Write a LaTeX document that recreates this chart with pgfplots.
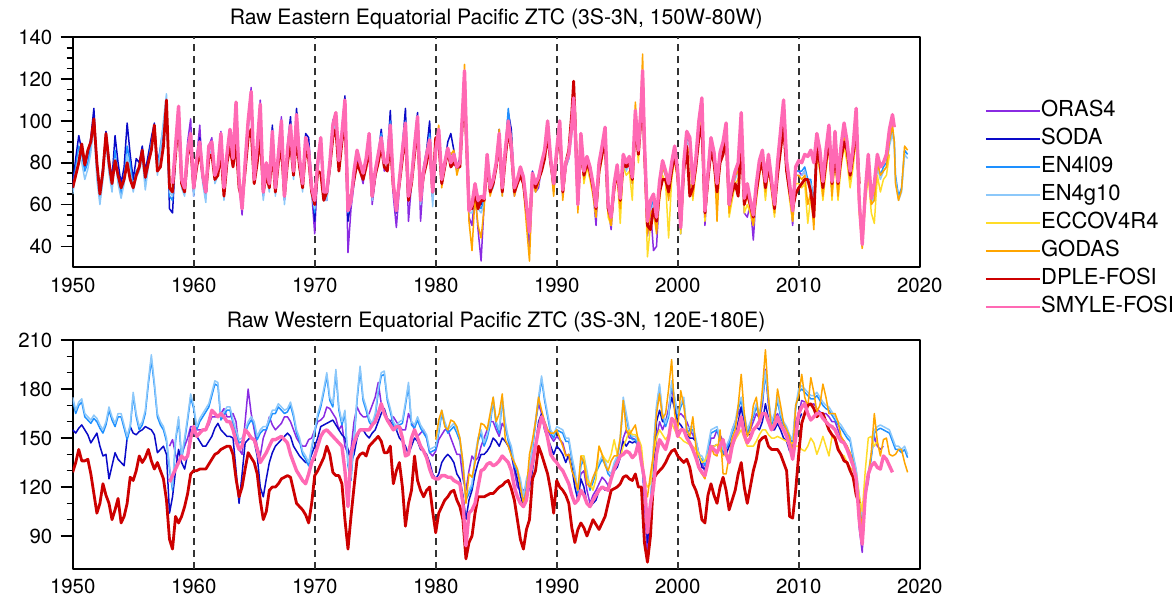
\documentclass[border=0pt]{standalone}
\usepackage{fontspec}
\setmainfont{TeX Gyre Heros}
\usepackage{pgfplots}
\usepackage{pgfplotstable}
\pgfplotsset{compat=1.18}

\definecolor{cOras}{RGB}{138,43,226}
\definecolor{cSoda}{RGB}{10,10,200}
\definecolor{cEnl}{RGB}{30,144,255}
\definecolor{cEng}{RGB}{140,200,250}
\definecolor{cEcco}{RGB}{255,220,40}
\definecolor{cGodas}{RGB}{255,165,0}
\definecolor{cDple}{RGB}{205,0,0}
\definecolor{cSmyle}{RGB}{255,105,180}

% eastern Pacific ZTC, columns: ORAS4 SODA EN4l09 EN4g10 ECCOV4R4 GODAS DPLE-FOSI SMYLE-FOSI
\pgfplotstableread{
t O S L G E Go D P
1950.00 nan 70 67 65 nan nan 68 nan
1950.25 nan 82 78 75 nan nan 74 nan
1950.50 nan 93 88 84 nan nan 80 nan
1950.75 nan 86 84 80 nan nan 89 nan
1951.00 nan 78 76 72 nan nan 79 nan
1951.25 nan 84 80 77 nan nan 86 nan
1951.50 nan 92 88 85 nan nan 90 nan
1951.75 nan 106 100 98 nan nan 101 nan
1952.00 nan 80 76 72 nan nan 80 nan
1952.25 nan 66 62 60 nan nan 65 nan
1952.50 nan 78 75 72 nan nan 76 nan
1952.75 nan 95 92 90 nan nan 94 nan
1953.00 nan 82 78 75 nan nan 80 nan
1953.25 nan 72 68 66 nan nan 70 nan
1953.50 nan 93 86 82 nan nan 81 nan
1953.75 nan 80 72 70 nan nan 74 nan
1954.00 nan 70 65 63 nan nan 68 nan
1954.25 nan 78 72 70 nan nan 72 nan
1954.50 nan 99 88 84 nan nan 80 nan
1954.75 nan 84 80 76 nan nan 72 nan
1955.00 nan 72 68 66 nan nan 68 nan
1955.25 nan 82 76 73 nan nan 74 nan
1955.50 nan 80 78 76 nan nan 78 nan
1955.75 nan 88 84 82 nan nan 86 nan
1956.00 nan 76 70 67 nan nan 73 nan
1956.25 nan 84 80 78 nan nan 80 nan
1956.50 nan 92 90 88 nan nan 86 nan
1956.75 nan 99 96 94 nan nan 98 nan
1957.00 nan 80 76 74 nan nan 76 nan
1957.25 nan 86 88 86 nan nan 78 nan
1957.50 nan 96 98 100 nan nan 88 nan
1957.75 nan 108 110 113 nan nan 110 nan
1958.00 nan 58 64 66 nan nan 68 nan
1958.25 62 56 62 64 nan nan 66 70
1958.50 86 84 86 85 nan nan 84 88
1958.75 105 102 101 99 nan nan 102 107
1959.00 70 70 70 68 nan nan 70 72
1959.25 66 68 66 64 nan nan 66 68
1959.50 90 86 84 82 nan nan 84 86
1959.75 101 92 92 90 nan nan 88 94
1960.00 64 66 66 64 nan nan 68 68
1960.25 82 80 80 78 nan nan 78 82
1960.50 98 92 88 86 nan nan 86 90
1960.75 72 74 72 70 nan nan 74 74
1961.00 63 64 63 61 nan nan 66 66
1961.25 88 86 86 84 nan nan 82 88
1961.50 92 90 88 86 nan nan 84 90
1961.75 72 72 72 70 nan nan 72 74
1962.00 76 78 76 74 nan nan 74 78
1962.25 95 92 92 90 nan nan 86 94
1962.50 64 66 66 62 nan nan 64 68
1962.75 84 82 82 80 nan nan 80 84
1963.00 96 94 94 92 nan nan 88 96
1963.25 80 80 80 78 nan nan 78 82
1963.50 108 104 104 100 nan nan 90 109
1963.75 70 70 70 68 nan nan 68 72
1964.00 55 58 60 62 nan nan 62 58
1964.25 80 78 78 76 nan nan 76 80
1964.50 100 98 98 96 nan nan 92 100
1964.75 116 114 112 108 nan nan 96 114
1965.00 70 72 72 70 nan nan 70 72
1965.25 88 88 86 84 nan nan 80 88
1965.50 110 108 106 104 nan nan 94 108
1965.75 64 66 64 62 nan nan 66 66
1966.00 80 78 78 76 nan nan 74 80
1966.25 68 70 68 66 nan nan 68 70
1966.50 96 98 94 92 nan nan 86 95
1966.75 66 68 66 64 nan nan 66 68
1967.00 84 84 82 80 nan nan 80 84
1967.25 102 98 98 96 nan nan 88 100
1967.50 62 64 62 60 nan nan 64 64
1967.75 86 88 86 84 nan nan 80 86
1968.00 98 102 98 96 nan nan 90 98
1968.25 74 76 74 72 nan nan 74 76
1968.50 104 106 102 100 nan nan 92 103
1968.75 80 80 80 78 nan nan 78 82
1969.00 68 70 68 66 nan nan 68 70
1969.25 92 94 92 90 nan nan 86 92
1969.50 88 92 88 86 nan nan 82 86
1969.75 66 70 66 64 nan nan 66 68
1970.00 46 52 56 58 nan nan 60 62
1970.25 78 80 78 76 nan nan 76 80
1970.50 90 92 90 88 nan nan 75 92
1970.75 64 66 64 62 nan nan 62 66
1971.00 62 66 64 62 nan nan 66 66
1971.25 78 80 78 76 nan nan 78 80
1971.50 98 100 96 94 nan nan 92 98
1971.75 104 104 102 100 nan nan 96 104
1972.00 80 82 80 78 nan nan 76 81
1972.25 92 96 92 90 nan nan 90 94
1972.50 110 112 108 106 nan nan 100 110
1972.75 37 52 56 58 nan nan 60 57
1973.00 58 62 62 60 nan nan 64 62
1973.25 70 76 76 74 nan nan 72 76
1973.50 82 86 86 86 nan nan 80 86
1973.75 76 80 80 78 nan nan 76 80
1974.00 70 75 75 72 nan nan 72 75
1974.25 80 82 82 80 nan nan 78 82
1974.50 94 94 92 90 nan nan 88 94
1974.75 60 64 64 62 nan nan 64 64
1975.00 72 76 76 74 nan nan 74 76
1975.25 82 84 84 82 nan nan 80 84
1975.50 92 96 94 92 nan nan 88 92
1975.75 76 80 80 78 nan nan 78 80
1976.00 78 82 80 78 nan nan 76 80
1976.25 98 105 100 98 nan nan 90 98
1976.50 64 70 70 68 nan nan 68 70
1976.75 49 56 58 60 nan nan 60 57
1977.00 68 72 72 70 nan nan 70 72
1977.25 86 88 86 84 nan nan 82 86
1977.50 99 106 100 98 nan nan 94 99
1977.75 52 62 64 62 nan nan 62 64
1978.00 70 74 72 70 nan nan 70 72
1978.25 88 90 88 86 nan nan 84 88
1978.50 102 104 100 98 nan nan 96 102
1978.75 52 62 62 60 nan nan 64 62
1979.00 74 78 76 74 nan nan 74 76
1979.25 84 86 84 82 nan nan 80 84
1979.50 91 100 94 92 nan nan 88 91
1979.75 62 64 62 59 nan nan 66 66
1980.00 84 88 86 84 nan 88 92 86
1980.25 94 96 94 92 nan 98 90 96
1980.50 70 72 72 70 nan 68 70 72
1980.75 78 80 80 78 nan 80 78 80
1981.00 86 90 86 84 nan 86 86 87
1981.25 82 94 84 82 nan 84 78 80
1981.50 84 86 84 82 nan 86 80 84
1981.75 76 78 78 76 nan 74 78 78
1982.00 80 82 80 78 nan 80 78 80
1982.25 106 108 106 104 nan 110 104 108
1982.38 124 124 122 120 nan 127 120 124
1982.50 98 100 98 96 nan 100 96 100
1982.75 54 58 58 56 nan 52 60 57
1983.00 50 60 58 56 nan 38 58 60
1983.25 66 70 68 66 nan 64 66 70
1983.50 48 62 60 58 nan 50 58 62
1983.75 33 60 58 56 nan 44 62 64
1984.00 60 64 62 60 nan 58 62 63
1984.25 82 84 82 80 nan 82 80 84
1984.50 66 68 68 66 nan 64 66 68
1984.75 70 72 70 68 nan 70 70 72
1985.00 78 80 80 78 nan 80 78 80
1985.25 94 96 94 92 nan 96 90 94
1985.50 66 68 66 64 nan 64 66 68
1985.75 84 86 86 84 nan 84 82 86
1986.00 100 104 106 100 nan 100 96 100
1986.25 88 96 90 88 nan 92 86 88
1986.50 64 68 68 66 nan 64 66 68
1986.75 70 72 72 70 nan 70 70 72
1987.00 76 78 76 74 nan 76 74 78
1987.25 70 74 72 70 nan 68 70 73
1987.50 54 60 60 58 nan 50 58 60
1987.75 40 48 48 46 nan 33 50 47
1988.00 72 76 74 72 nan 72 74 75
1988.25 66 70 68 66 nan 66 68 70
1988.50 68 74 72 70 nan 70 72 73
1988.75 78 80 80 78 nan 80 76 80
1989.00 84 86 86 84 nan 86 82 86
1989.25 100 100 98 96 nan 98 94 100
1989.50 80 82 82 80 nan 80 80 82
1989.75 66 70 68 66 nan 64 70 70
1990.00 84 86 84 82 nan 84 84 86
1990.25 100 100 98 96 nan 98 96 100
1990.50 64 67 66 64 nan 62 66 67
1990.75 78 80 80 78 nan 78 80 80
1991.00 82 84 84 82 nan 84 86 84
1991.25 96 98 96 94 nan 98 104 98
1991.40 110 110 108 106 nan 108 119 111
1991.50 98 100 98 96 nan 96 104 100
1991.75 58 60 60 58 nan 56 62 60
1992.00 92 94 92 90 88 92 88 94
1992.25 74 76 74 72 70 72 74 76
1992.50 82 83 82 80 78 80 80 83
1992.75 76 78 76 74 72 74 76 78
1993.00 66 70 68 66 64 66 68 70
1993.25 50 59 57 55 54 54 58 59
1993.50 78 80 78 76 74 78 76 80
1993.75 86 88 86 84 82 86 84 88
1994.00 96 97 95 93 92 96 90 97
1994.25 58 60 58 56 54 56 58 60
1994.50 48 54 54 52 50 50 54 54
1994.75 68 70 70 68 66 68 68 70
1995.00 78 79 78 76 74 78 76 79
1995.25 60 63 62 60 51 58 62 63
1995.50 82 84 82 80 78 82 80 84
1995.75 78 80 78 76 74 78 78 80
1996.00 80 83 82 80 76 82 80 83
1996.25 70 73 72 70 62 70 72 73
1996.50 104 105 104 102 100 109 98 105
1996.75 84 86 86 84 80 86 84 86
1997.00 108 110 110 108 104 115 104 110
1997.10 122 124 122 120 118 132 118 124
1997.25 88 90 88 86 84 88 86 90
1997.50 45 52 50 48 35 46 50 52
1997.75 58 62 58 56 50 56 48 62
1998.00 38 65 62 60 56 58 58 65
1998.25 40 54 52 50 48 46 52 54
1998.50 66 71 68 66 62 66 66 71
1998.75 78 81 80 78 74 78 72 81
1999.00 74 76 76 74 70 74 72 76
1999.25 64 70 66 64 44 62 66 70
1999.50 78 80 78 76 72 78 76 80
1999.75 86 84 86 84 82 86 84 88
2000.00 74 76 74 72 70 72 74 76
2000.25 46 49 48 46 46 48 52 49
2000.50 78 80 78 76 74 78 76 80
2000.75 92 95 92 90 88 94 88 95
2001.00 90 92 90 88 84 90 64 92
2001.25 66 70 68 66 62 64 68 70
2001.50 80 82 80 78 76 78 78 82
2001.75 98 100 98 96 92 98 92 100
2002.00 110 111 108 106 104 110 98 111
2002.25 50 57 56 54 52 54 56 57
2002.50 72 75 74 72 70 72 72 75
2002.75 90 92 90 88 86 90 86 92
2003.00 84 85 84 82 80 84 80 85
2003.25 66 70 68 66 60 52 66 70
2003.50 84 85 84 82 80 84 80 85
2003.75 88 90 88 86 84 88 84 90
2004.00 98 99 98 96 94 98 92 99
2004.25 56 60 58 56 54 56 60 60
2004.50 68 70 68 66 62 66 66 70
2004.75 74 76 74 72 70 74 70 76
2005.00 78 80 78 76 72 76 64 80
2005.25 102 104 102 100 98 104 92 104
2005.50 56 63 62 60 56 60 60 63
2005.75 54 70 68 66 60 64 66 70
2006.00 60 62 60 58 56 58 60 62
2006.25 43 55 54 52 50 50 54 55
2006.50 66 70 68 66 62 66 66 70
2006.75 78 81 80 78 74 78 76 81
2007.00 84 86 84 82 80 84 80 86
2007.25 64 71 70 68 62 66 68 71
2007.50 82 84 82 80 78 82 78 84
2007.75 70 72 72 70 66 70 70 72
2008.00 56 60 58 56 54 56 58 60
2008.25 78 80 78 76 74 78 74 80
2008.50 94 95 94 92 90 94 86 95
2008.75 108 110 108 106 104 108 98 110
2009.00 80 81 80 78 76 80 76 81
2009.25 68 70 68 66 62 66 66 70
2009.50 50 57 56 54 52 52 58 57
2009.75 76 78 76 74 70 74 65 78
2010.00 76 80 76 74 70 74 68 81
2010.25 74 nan 76 74 68 72 70 80
2010.50 76 nan 78 76 70 74 72 84
2010.75 70 nan 72 70 51 60 72 83
2011.00 70 nan 72 70 64 66 66 86
2011.25 56 nan 60 58 52 48 54 80
2011.50 88 nan 90 88 84 88 88 94
2011.75 80 nan 82 80 76 80 80 86
2012.00 66 nan 68 66 62 64 68 71
2012.25 80 nan 82 80 76 80 80 86
2012.50 92 nan 94 92 88 92 92 98
2012.75 66 nan 68 66 62 64 70 71
2013.00 86 nan 88 86 82 86 84 95
2013.25 66 nan 68 66 62 64 70 71
2013.50 82 nan 84 82 78 82 82 88
2013.75 92 nan 94 92 88 92 90 99
2014.00 84 nan 86 84 80 84 86 90
2014.25 72 nan 74 72 68 72 74 76
2014.50 84 nan 84 82 78 84 84 88
2014.75 96 nan 98 96 92 98 97 106
2015.00 60 nan 62 60 56 58 70 62
2015.25 40 nan 42 41 40 39 nan 41
2015.50 64 nan 64 62 60 62 nan 66
2015.75 80 nan 80 78 74 80 nan 84
2016.00 62 nan 62 60 56 60 nan 63
2016.25 62 nan 66 64 51 62 nan 70
2016.50 80 nan 80 78 74 80 nan 84
2016.75 74 nan 74 72 66 74 nan 78
2017.00 76 nan 78 76 72 76 nan 80
2017.25 nan nan 80 78 74 78 nan 84
2017.50 nan nan 90 88 84 90 nan 96
2017.75 nan nan 96 94 nan 98 nan 103
2017.90 nan nan 90 88 nan 90 nan 97
2018.00 nan nan 74 72 nan 70 nan nan
2018.25 nan nan 64 62 nan 62 nan nan
2018.50 nan nan 68 66 nan 67 nan nan
2018.75 nan nan 86 84 nan 88 nan nan
2019.00 nan nan 84 82 nan 86 nan nan
}\easttab

% western Pacific ZTC, same columns
\pgfplotstableread{
t O S L G E Go D P
1950.00 nan 155 173 175 nan nan 129 nan
1950.25 nan 153 165 167 nan nan 135 nan
1950.50 nan 156 170 172 nan nan 143 nan
1950.75 nan 158 172 174 nan nan 136 nan
1951.00 nan 155 163 165 nan nan 136 nan
1951.25 nan 152 161 163 nan nan 137 nan
1951.50 nan 147 159 161 nan nan 128 nan
1951.75 nan 150 162 164 nan nan 116 nan
1952.00 nan 153 160 162 nan nan 104 nan
1952.25 nan 145 156 158 nan nan 110 nan
1952.50 nan 139 153 155 nan nan 122 nan
1952.75 nan 140 158 160 nan nan 115 nan
1953.00 nan 125 167 169 nan nan 110 nan
1953.25 nan 133 161 163 nan nan 100 nan
1953.50 nan 141 157 159 nan nan 106 nan
1953.75 nan 137 163 165 nan nan 113 nan
1954.00 nan 135 163 165 nan nan 98 nan
1954.25 nan 133 156 158 nan nan 102 nan
1954.50 nan 150 149 151 nan nan 110 nan
1954.75 nan 157 156 158 nan nan 126 nan
1955.00 nan 153 176 178 nan nan 124 nan
1955.25 nan 152 163 165 nan nan 130 nan
1955.50 nan 154 155 157 nan nan 139 nan
1955.75 nan 155 158 160 nan nan 135 nan
1956.00 nan 157 165 167 nan nan 138 nan
1956.25 nan 156 183 185 nan nan 143 nan
1956.50 nan 155 198 201 nan nan 136 nan
1956.75 nan 152 182 184 nan nan 131 nan
1957.00 nan 141 163 165 nan nan 135 nan
1957.25 nan 143 158 160 nan nan 130 nan
1957.50 nan 145 155 157 nan nan 125 nan
1957.75 nan 140 148 150 nan nan 112 nan
1958.00 145 104 131 133 nan nan 88 123
1958.25 149 114 118 120 nan nan 82 127
1958.50 140 130 148 150 nan nan 102 131
1958.75 135 143 161 163 nan nan 98 135
1959.00 140 135 137 139 nan nan 102 139
1959.25 145 131 148 150 nan nan 108 137
1959.50 150 140 161 163 nan nan 116 139
1959.75 157 155 175 177 nan nan 128 150
1960.00 157 153 168 170 nan nan 130 157
1960.25 155 151 155 157 nan nan 130 151
1960.50 155 148 160 162 nan nan 131 153
1960.75 155 145 163 165 nan nan 131 155
1961.00 155 145 166 168 nan nan 131 155
1961.25 158 148 169 171 nan nan 134 160
1961.50 163 151 176 178 nan nan 137 167
1961.75 163 156 183 185 nan nan 140 165
1962.00 163 159 182 184 nan nan 141 163
1962.25 165 155 161 163 nan nan 143 165
1962.50 168 153 164 166 nan nan 144 163
1962.75 163 151 167 169 nan nan 145 160
1963.00 163 151 167 169 nan nan 145 160
1963.25 165 150 159 161 nan nan 140 155
1963.50 160 130 153 155 nan nan 125 148
1963.75 143 110 147 149 nan nan 114 143
1964.00 140 128 148 150 nan nan 120 145
1964.25 160 147 153 155 nan nan 131 155
1964.50 180 149 158 160 nan nan 141 153
1964.75 165 151 161 163 nan nan 138 150
1965.00 155 148 158 160 nan nan 135 149
1965.25 145 139 149 151 nan nan 128 143
1965.50 139 120 153 155 nan nan 112 135
1965.75 150 114 155 157 nan nan 100 138
1966.00 155 125 155 157 nan nan 105 141
1966.25 163 135 160 162 nan nan 118 145
1966.50 158 141 165 167 nan nan 120 149
1966.75 155 145 165 167 nan nan 120 149
1967.00 157 147 169 171 nan nan 122 150
1967.25 159 149 167 169 nan nan 125 151
1967.50 163 151 165 167 nan nan 126 149
1967.75 163 153 166 168 nan nan 127 147
1968.00 160 151 170 172 nan nan 126 140
1968.25 155 145 163 165 nan nan 118 135
1968.50 150 142 153 155 nan nan 110 130
1968.75 147 139 148 150 nan nan 108 127
1969.00 145 137 140 142 nan nan 106 124
1969.25 145 135 137 139 nan nan 103 122
1969.50 149 135 133 135 nan nan 98 128
1969.75 150 140 143 145 nan nan 110 135
1970.00 155 145 153 155 nan nan 127 139
1970.25 160 150 163 165 nan nan 130 145
1970.50 161 157 169 171 nan nan 134 151
1970.75 163 158 178 180 nan nan 138 154
1971.00 169 159 188 190 nan nan 145 155
1971.25 168 160 173 175 nan nan 140 153
1971.50 165 161 169 171 nan nan 129 151
1971.75 162 158 190 192 nan nan 127 149
1972.00 155 155 167 169 nan nan 127 147
1972.25 158 152 158 160 nan nan 122 145
1972.50 145 150 165 167 nan nan 100 130
1972.75 140 143 133 135 nan nan 82 108
1973.00 143 135 124 126 nan nan 102 140
1973.25 160 140 148 150 nan nan 120 147
1973.50 169 150 173 175 nan nan 137 152
1973.75 165 155 192 194 nan nan 140 155
1974.00 163 155 173 175 nan nan 141 155
1974.25 163 152 167 169 nan nan 139 155
1974.50 165 150 160 162 nan nan 145 155
1974.75 170 153 157 159 nan nan 147 158
1975.00 175 155 163 165 nan nan 149 160
1975.25 184 160 178 180 nan nan 151 165
1975.50 171 165 188 190 nan nan 148 171
1975.75 165 168 189 191 nan nan 141 165
1976.00 160 162 173 175 nan nan 141 161
1976.25 160 160 166 168 nan nan 145 158
1976.50 163 157 158 160 nan nan 122 155
1976.75 160 155 155 157 nan nan 130 157
1977.00 157 150 158 160 nan nan 135 157
1977.25 155 148 159 161 nan nan 120 150
1977.50 155 145 170 172 nan nan 96 139
1977.75 165 140 182 184 nan nan 110 140
1978.00 160 145 158 160 nan nan 118 150
1978.25 155 150 156 158 nan nan 139 155
1978.50 151 148 161 163 nan nan 124 150
1978.75 153 143 156 158 nan nan 118 145
1979.00 155 142 153 155 nan nan 114 142
1979.25 150 140 150 152 nan nan 118 138
1979.50 141 135 141 143 nan nan 120 131
1979.75 139 128 142 144 nan nan 105 126
1980.00 142 125 143 145 nan 149 92 125
1980.25 149 128 153 155 nan 161 104 125
1980.50 152 135 165 167 nan 167 108 127
1980.75 155 138 158 160 nan 157 112 127
1981.00 155 140 153 155 nan 155 114 126
1981.25 150 138 155 157 nan 161 117 126
1981.50 145 135 157 159 nan 160 118 124
1981.75 140 128 153 155 nan 157 112 123
1982.00 140 125 148 150 nan 150 108 122
1982.25 125 115 133 135 nan 135 100 110
1982.50 118 100 112 114 nan 110 76 84
1982.75 130 112 116 118 nan 128 86 104
1983.00 139 118 120 122 nan 126 90 106
1983.25 136 128 137 139 nan 135 104 110
1983.50 138 135 148 150 nan 149 114 120
1983.75 145 140 153 155 nan 159 114 130
1984.00 150 140 145 147 nan 158 114 131
1984.25 155 142 150 152 nan 155 115 134
1984.50 160 145 158 160 nan 165 116 135
1984.75 160 150 173 175 nan 175 116 133
1985.00 155 148 158 160 nan 160 118 134
1985.25 151 145 153 155 nan 165 120 136
1985.50 159 150 173 175 nan 177 121 139
1985.75 156 148 158 160 nan 149 123 137
1986.00 150 145 148 150 nan 145 124 135
1986.25 140 140 143 145 nan 139 119 130
1986.50 130 132 133 135 nan 135 112 120
1986.75 120 125 129 131 nan 131 100 114
1987.00 118 115 123 125 nan 120 88 110
1987.25 118 108 112 114 nan 110 82 108
1987.50 120 112 123 125 nan 118 94 112
1987.75 130 120 129 131 nan 140 100 126
1988.00 145 130 143 145 nan 149 125 135
1988.25 160 145 159 161 nan 160 130 145
1988.50 171 160 173 175 nan 175 145 155
1988.75 165 165 186 188 nan 167 140 163
1989.00 160 155 173 175 nan 160 134 158
1989.25 155 150 163 165 nan 155 128 150
1989.50 151 145 153 155 nan 153 118 140
1989.75 148 140 150 152 nan 153 104 137
1990.00 151 145 155 157 nan 155 124 135
1990.25 149 143 154 156 nan 150 120 132
1990.50 147 140 153 155 nan 145 118 130
1990.75 140 135 148 150 nan 139 115 126
1991.00 138 140 148 150 nan 140 110 122
1991.25 131 132 137 139 nan 130 95 115
1991.50 125 120 128 130 nan 125 86 110
1991.75 118 112 116 118 nan 118 94 112
1992.00 128 125 133 135 139 139 98 118
1992.25 130 120 137 139 139 135 95 115
1992.50 118 110 128 130 125 122 90 110
1992.75 110 108 118 120 122 120 95 108
1993.00 115 110 123 125 118 126 100 112
1993.25 118 112 129 131 125 130 97 115
1993.50 122 118 133 135 145 145 94 118
1993.75 126 120 137 139 140 140 98 120
1994.00 124 118 134 136 137 133 102 119
1994.25 121 120 128 130 135 130 110 118
1994.50 125 125 126 128 140 136 118 125
1994.75 130 130 133 135 149 139 119 131
1995.00 135 132 137 139 140 139 120 135
1995.25 140 138 148 150 138 150 122 139
1995.50 150 148 172 175 145 173 126 140
1995.75 155 145 163 165 149 155 127 142
1996.00 150 148 153 155 155 152 125 141
1996.25 150 147 149 151 152 155 124 138
1996.50 149 148 149 151 152 158 128 140
1996.75 147 145 145 147 150 148 120 147
1997.00 142 140 136 138 145 139 120 135
1997.25 110 125 118 120 125 120 86 125
1997.50 78 86 100 102 120 114 74 92
1997.75 112 110 108 110 122 128 90 110
1998.00 128 130 143 145 140 140 125 120
1998.25 150 160 168 170 150 165 128 140
1998.50 160 167 181 183 155 177 130 149
1998.75 155 160 163 165 152 162 132 146
1999.00 160 160 157 159 149 165 135 143
1999.25 168 165 163 165 152 180 139 150
1999.50 181 175 183 185 159 198 142 162
1999.75 170 168 173 175 155 165 143 160
2000.00 163 160 163 165 151 155 139 151
2000.25 165 158 169 171 150 179 137 155
2000.50 163 155 173 175 148 170 135 155
2000.75 160 152 153 155 147 155 137 150
2001.00 155 150 155 157 146 151 132 147
2001.25 152 150 155 157 145 163 122 143
2001.50 148 148 148 150 143 145 118 138
2001.75 140 140 138 140 140 131 112 132
2002.00 135 132 137 139 135 128 100 129
2002.25 129 131 133 135 136 125 98 127
2002.50 140 138 143 145 140 135 115 135
2002.75 150 145 153 155 145 145 122 145
2003.00 150 145 154 156 145 140 115 143
2003.25 155 146 155 157 146 139 110 141
2003.50 152 143 148 150 143 155 120 145
2003.75 148 140 141 143 139 128 126 149
2004.00 145 140 143 145 140 128 118 140
2004.25 147 145 147 149 139 139 106 135
2004.50 155 148 153 155 145 150 112 145
2004.75 160 150 158 160 149 155 118 151
2005.00 165 160 168 170 152 170 128 155
2005.25 169 169 173 175 155 189 135 163
2005.50 160 158 163 165 150 165 120 152
2005.75 152 152 153 155 145 151 110 147
2006.00 155 152 158 160 145 155 120 150
2006.25 160 155 163 165 145 170 130 155
2006.50 165 157 169 171 148 175 137 157
2006.75 162 155 163 165 152 160 148 160
2007.00 170 160 173 175 155 180 150 165
2007.25 192 171 189 191 155 204 151 165
2007.50 170 162 173 175 152 175 145 160
2007.75 160 155 158 160 150 155 143 155
2008.00 162 155 163 165 150 160 143 158
2008.25 165 159 173 175 151 180 143 163
2008.50 160 155 163 165 150 170 140 158
2008.75 155 150 158 160 149 159 135 155
2009.00 152 148 155 157 148 155 130 151
2009.25 148 142 150 152 147 151 102 145
2009.50 143 141 147 149 147 139 101 137
2009.75 160 155 168 170 145 170 118 150
2010.00 165 161 178 180 145 176 140 165
2010.25 173 165 180 182 143 189 159 169
2010.50 172 nan 178 180 142 175 165 171
2010.75 171 nan 176 178 145 169 170 165
2011.00 170 nan 174 176 150 187 171 161
2011.25 171 nan 174 176 147 178 168 163
2011.50 168 nan 176 178 140 166 163 165
2011.75 166 nan 173 175 145 170 165 165
2012.00 165 nan 170 172 151 183 165 162
2012.25 165 nan 168 170 145 175 160 160
2012.50 163 nan 167 169 139 165 155 158
2012.75 160 nan 164 166 151 165 152 157
2013.00 160 nan 161 163 149 165 150 155
2013.25 155 nan 158 160 145 160 143 151
2013.50 150 nan 156 158 140 151 140 148
2013.75 148 nan 153 155 139 148 136 147
2014.00 145 nan 150 152 135 145 135 143
2014.25 140 nan 148 150 132 141 130 138
2014.50 138 nan 138 140 130 135 126 133
2014.75 130 nan 129 131 128 121 115 125
2015.00 95 nan 113 115 115 110 110 100
2015.25 80 nan 100 102 105 94 nan 85
2015.50 115 nan 118 120 130 115 nan 115
2015.75 123 nan 127 129 150 127 nan 128
2016.00 140 nan 138 140 151 141 nan 133
2016.25 151 nan 153 155 145 165 nan 135
2016.50 145 nan 155 157 148 148 nan 132
2016.75 143 nan 156 158 nan 139 nan 131
2017.00 145 nan 155 157 nan 149 nan 139
2017.25 nan nan 154 156 nan 150 nan 137
2017.50 nan nan 153 155 nan 140 nan 133
2017.75 nan nan 148 150 nan 139 nan 129
2018.00 nan nan 143 145 nan 140 nan nan
2018.25 nan nan 143 145 nan 143 nan nan
2018.50 nan nan 141 143 nan 143 nan nan
2018.75 nan nan 143 145 nan 135 nan nan
2019.00 nan nan 138 140 nan 129 nan nan
}\westtab

\pgfplotsset{
  ztc/.style={
    scale only axis, width=423.5pt,
    xmin=1950, xmax=2020,
    xtick={1950,1960,...,2020},
    xtick style={draw=none},
    extra x ticks={1960,1970,1980,1990,2000,2010},
    extra x tick labels={},
    extra x tick style={grid=major, major tick length=0pt},
    major grid style={black!80, line width=0.8pt, dash pattern=on 3.5pt off 2.5pt},
    ytick pos=left, tick align=outside,
    major tick length=6pt, minor tick length=3pt,
    tick style={black, line width=0.8pt},
    axis line style={line width=1pt},
    ticklabel style={font=\fontsize{10.2}{12}\selectfont},
    /pgf/number format/assume math mode=true,
    /pgf/number format/1000 sep={},
    xticklabel style={anchor=north, inner sep=0pt, text height=7.2pt, yshift=0.8pt},
    yticklabel style={anchor=east, inner sep=0pt, xshift=-4pt},
    title style={at={(0.5,1)}, anchor=base, yshift=0.5pt, font=\fontsize{10.6}{12}\selectfont},
    no marks, line join=round,
  },
  refline/.style={line width=0.75pt},
}

\begin{document}
\begin{tikzpicture}
\useasboundingbox (0,0) rectangle (586.5pt,300pt);
\begin{axis}[ztc,
  at={(36.35pt,166.35pt)}, anchor=south west, height=115pt,
  ymin=30, ymax=140, ytick={40,60,...,140}, minor y tick num=3,
  title={Raw Eastern Equatorial Pacific ZTC (3S-3N, 150W-80W)},
  legend style={at={(1.0763,0.2535)}, anchor=west, draw=none, fill=none,
    inner sep=0pt, row sep=3.4pt,
    nodes={inner xsep=0pt, inner ysep=0.5pt, text height=7.6pt, text depth=2pt,
      font=\fontsize{11}{13}\selectfont}},
  legend cell align=left,
  legend image code/.code={\draw[#1, line width=1.2pt] (0pt,0pt) -- (27pt,0pt);},
]
\addplot[cOras, refline] table[x=t, y=O] {\easttab};
\addplot[cSoda, refline] table[x=t, y=S] {\easttab};
\addplot[cEnl, refline] table[x=t, y=L] {\easttab};
\addplot[cEng, refline] table[x=t, y=G] {\easttab};
\addplot[cEcco, refline] table[x=t, y=E] {\easttab};
\addplot[cGodas, refline] table[x=t, y=Go] {\easttab};
\addplot[cDple, line width=1.4pt] table[x=t, y=D] {\easttab};
\addplot[cSmyle, line width=1.7pt] table[x=t, y=P] {\easttab};
\legend{ORAS4,SODA,EN4l09,EN4g10,ECCOV4R4,GODAS,DPLE-FOSI,SMYLE-FOSI}
\end{axis}

\begin{axis}[ztc,
  at={(36.35pt,15.65pt)}, anchor=south west, height=114.35pt,
  ymin=70, ymax=210, ytick={90,120,...,210}, minor y tick num=2,
  title={Raw Western Equatorial Pacific ZTC (3S-3N, 120E-180E)},
]
\addplot[cOras, refline] table[x=t, y=O] {\westtab};
\addplot[cSoda, refline] table[x=t, y=S] {\westtab};
\addplot[cEnl, refline] table[x=t, y=L] {\westtab};
\addplot[cEng, refline] table[x=t, y=G] {\westtab};
\addplot[cEcco, refline] table[x=t, y=E] {\westtab};
\addplot[cGodas, refline] table[x=t, y=Go] {\westtab};
\addplot[cDple, line width=1.4pt] table[x=t, y=D] {\westtab};
\addplot[cSmyle, line width=1.7pt] table[x=t, y=P] {\westtab};
\end{axis}
\end{tikzpicture}
\end{document}
